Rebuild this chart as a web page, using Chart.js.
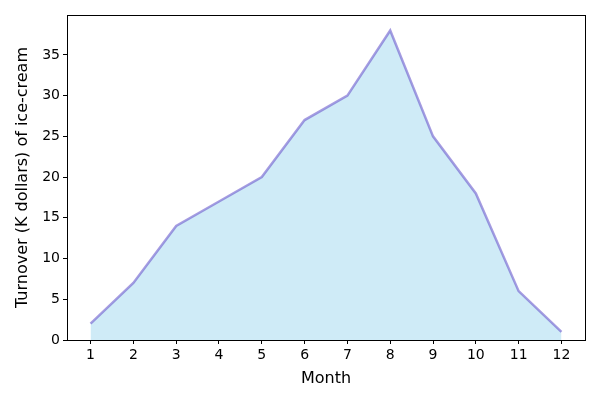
<!DOCTYPE html>
<html>
<head>
<meta charset="utf-8">
<script src="https://cdn.jsdelivr.net/npm/chart.js@4/dist/chart.umd.min.js"></script>
<style>
  body { margin: 0; background: #fff; }
  #wrap { width: 600px; height: 400px; }
</style>
</head>
<body>
<div id="wrap"><canvas id="myChart" width="600" height="400"></canvas></div>
<script>
let months = [1, 2, 3, 4, 5, 6, 7, 8, 9, 10, 11, 12];
let turnover = [2, 7, 14, 17, 20, 27, 30, 38, 25, 18, 6, 1];
let yTicks = [0, 5, 10, 15, 20, 25, 30, 35];

let points = months.map((m, i) => ({ x: m, y: turnover[i] }));

// box round the plot area, like matplotlib's spines
let frame = {
    id: "frame",
    afterDraw(chart) {
        let a = chart.chartArea;
        let ctx = chart.ctx;
        ctx.save();
        ctx.strokeStyle = "#000";
        ctx.lineWidth = 1;
        ctx.strokeRect(Math.round(a.left) + 0.5, Math.round(a.top) + 0.5,
            Math.round(a.right - a.left), Math.round(a.bottom - a.top));
        ctx.restore();
    }
};

Chart.defaults.font.family = "'DejaVu Sans', sans-serif";
Chart.defaults.color = "#000";

let myChart = document.getElementById("myChart");
let chart = new Chart(myChart, {
    type: "line",
    data: {
        datasets: [{
            data: points,
            borderColor: "rgba(106, 90, 205, 0.6)",
            backgroundColor: "rgba(135, 206, 235, 0.4)",
            borderWidth: 2.5,
            fill: "origin",
            pointRadius: 0,
            tension: 0
        }]
    },
    plugins: [frame],
    options: {
        responsive: false,
        animation: false,
        layout: { padding: { top: 15, right: 15, left: 9, bottom: 0 } },
        plugins: { legend: { display: false }, tooltip: { enabled: false } },
        scales: {
            x: {
                type: "linear",
                min: 0.45,
                max: 12.55,
                afterBuildTicks: axis => { axis.ticks = months.map(v => ({ value: v })); },
                afterFit: axis => { axis.height = 60; },
                ticks: { font: { size: 14 }, padding: 3, maxRotation: 0, autoSkip: false },
                grid: { drawOnChartArea: false, tickLength: 4, tickColor: "#000" },
                border: { color: "#000" },
                title: { display: true, text: "Month", font: { size: 16 }, padding: { top: 2, bottom: 12 } }
            },
            y: {
                min: 0,
                max: 39.9,
                afterBuildTicks: axis => { axis.ticks = yTicks.map(v => ({ value: v })); },
                afterFit: axis => { axis.width = 58; },
                ticks: { font: { size: 14 }, padding: 3 },
                grid: { drawOnChartArea: false, tickLength: 4, tickColor: "#000" },
                border: { color: "#000" },
                title: { display: true, text: "Turnover (K dollars) of ice-cream", font: { size: 16 }, padding: { bottom: 4 } }
            }
        }
    }
});
</script>
</body>
</html>
